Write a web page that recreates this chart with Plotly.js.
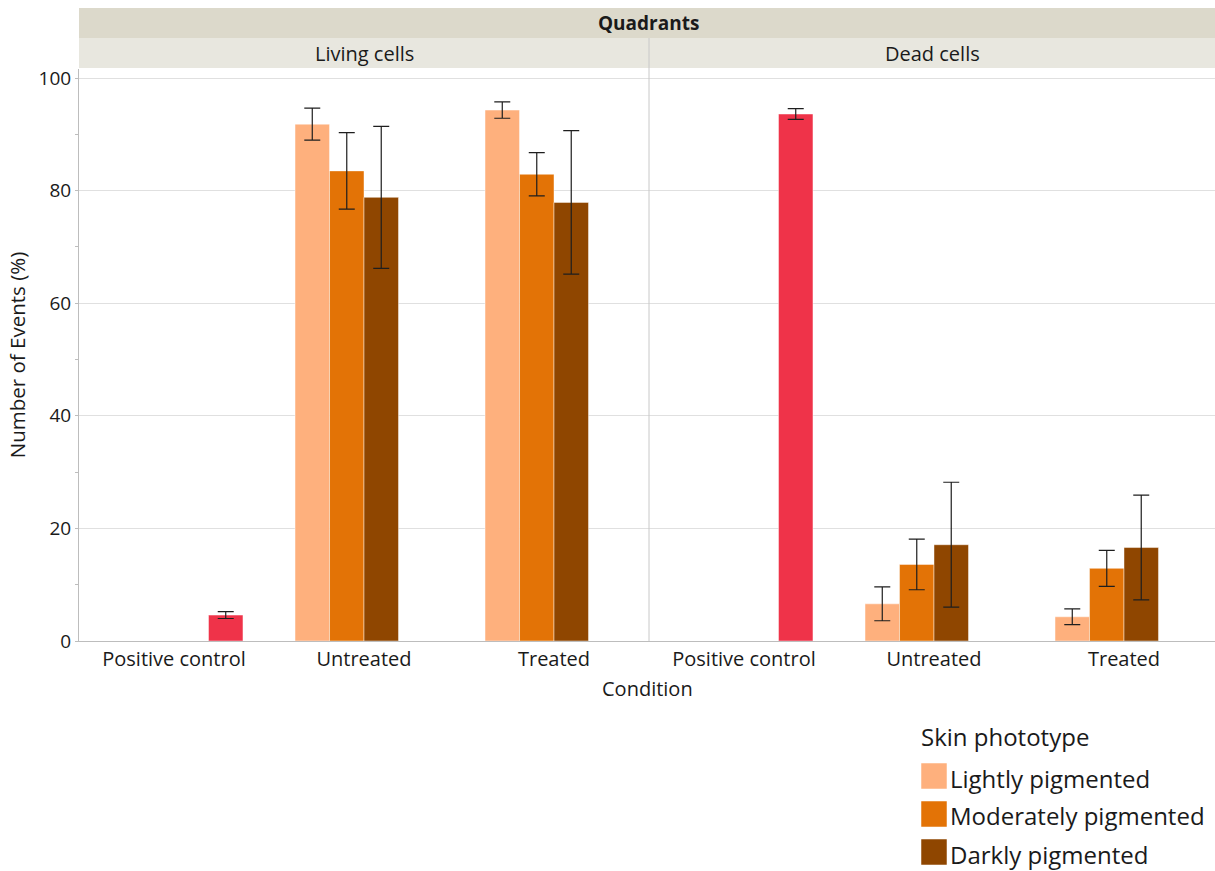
<!DOCTYPE html>
<html>
<head>
<meta charset="utf-8">
<script src="https://cdn.plot.ly/plotly-3.0.1.min.js"></script>
<style>
  html, body { margin: 0; padding: 0; background: #ffffff; overflow: hidden; }
  #chart { width: 1215px; height: 871px; }
</style>
</head>
<body>
<div id="chart"></div>
<script>
// Conditions on the x axis of each panel
const categories = ['Positive control', 'Untreated', 'Treated'];

// Panels (quadrants)
const panelNames = ['Living cells', 'Dead cells'];

// Skin phototype groups
const seriesNames = ['Lightly pigmented', 'Moderately pigmented', 'Darkly pigmented'];
const seriesColors = ['#FEB07D', '#E37306', '#8F4600'];
const controlColor = '#EF3349';

// Living cells: mean (%) and error
const livingLight      = [null, 91.8, 94.3];
const livingLightErr   = [null, 2.85, 1.45];
const livingModerate   = [null, 83.5, 82.9];
const livingModerateErr= [null, 6.8, 3.85];
const livingDark       = [null, 78.8, 77.9];
const livingDarkErr    = [null, 12.6, 12.75];
const livingControl    = [4.6, null, null];
const livingControlErr = [0.6, null, null];

// Dead cells: mean (%) and error
const deadLight        = [null, 6.6, 4.3];
const deadLightErr     = [null, 3.0, 1.4];
const deadModerate     = [null, 13.6, 12.9];
const deadModerateErr  = [null, 4.5, 3.2];
const deadDark         = [null, 17.1, 16.6];
const deadDarkErr      = [null, 11.1, 9.3];
const deadControl      = [93.6, null, null];
const deadControlErr   = [0.95, null, null];

const yTicks = [0, 20, 40, 60, 80, 100];

const FONT = '"Open Sans", "Noto Sans", sans-serif';
const TEXT = '#1a1a1a';

// Figure geometry (pixels)
const W = 1215, H = 871;
const M = { l: 79, r: 0, t: 69, b: 230 };
const plotW = W - M.l - M.r;
const plotH = H - M.t - M.b;
const catPx = 190;                       // width of one condition slot
const split = (3 * catPx) / plotW;       // domain boundary between panels

// helpers: pixel -> paper coordinates
const px = x => (x - M.l) / plotW;
const py = y => (H - M.b - y) / plotH;

function bar(name, x, y, err, color, xaxis) {
  return {
    type: 'bar', name: name, x: x, y: y, xaxis: xaxis, yaxis: 'y',
    marker: { color: color, line: { color: 'rgba(255,255,255,0.45)', width: 1 } },
    error_y: { type: 'data', array: err, visible: true, color: '#1e1e1e', thickness: 1.2, width: 8 },
    showlegend: false, hoverinfo: 'x+y'
  };
}

const panels = [
  { axis: 'x',  vals: [livingLight, livingModerate, livingDark], errs: [livingLightErr, livingModerateErr, livingDarkErr], ctl: livingControl, ctlErr: livingControlErr },
  { axis: 'x2', vals: [deadLight, deadModerate, deadDark],       errs: [deadLightErr, deadModerateErr, deadDarkErr],       ctl: deadControl,   ctlErr: deadControlErr }
];

const traces = [];
panels.forEach(p => {
  p.vals.forEach((v, i) => traces.push(bar(seriesNames[i], categories, v, p.errs[i], seriesColors[i], p.axis)));
  traces.push(bar('Positive control', categories, p.ctl, p.ctlErr, controlColor, p.axis));
});

const axisCommon = {
  type: 'category',
  categoryorder: 'array', categoryarray: categories,
  showgrid: false, zeroline: false,
  showline: true, linecolor: '#BDBDBD', linewidth: 1,
  ticks: '', tickfont: { family: FONT, size: 20, color: TEXT },
  fixedrange: true
};

const shapes = [];
const annotations = [];

// header bands
const band1Top = 8, band1Bot = 38, band2Bot = 68;
shapes.push({ type: 'rect', xref: 'paper', yref: 'paper', x0: 0, x1: 1, y0: py(band1Bot), y1: py(band1Top), fillcolor: '#DCD9CB', line: { width: 0 }, layer: 'below' });
shapes.push({ type: 'rect', xref: 'paper', yref: 'paper', x0: 0, x1: 1, y0: py(band2Bot), y1: py(band1Bot), fillcolor: '#E8E7DF', line: { width: 0 }, layer: 'below' });
// panel divider
shapes.push({ type: 'line', xref: 'paper', yref: 'paper', x0: split, x1: split, y0: 0, y1: py(band1Bot), line: { color: '#C8C8C8', width: 1 } });

annotations.push({ xref: 'paper', yref: 'paper', x: px(648), y: py((band1Top + band1Bot) / 2), text: '<b>Quadrants</b>', showarrow: false, xanchor: 'center', yanchor: 'middle', font: { family: FONT, size: 19, color: TEXT } });
annotations.push({ xref: 'paper', yref: 'paper', x: split / 2, y: py((band1Bot + band2Bot) / 2), text: panelNames[0], showarrow: false, xanchor: 'center', yanchor: 'middle', font: { family: FONT, size: 20, color: TEXT } });
annotations.push({ xref: 'paper', yref: 'paper', x: split + (1 - split) / 2, y: py((band1Bot + band2Bot) / 2), text: panelNames[1], showarrow: false, xanchor: 'center', yanchor: 'middle', font: { family: FONT, size: 20, color: TEXT } });

// x-axis title spanning both panels
annotations.push({ xref: 'paper', yref: 'paper', x: 0.5, y: py(688), text: 'Condition', showarrow: false, xanchor: 'center', yanchor: 'middle', font: { family: FONT, size: 20, color: TEXT } });

// legend: skin phototype
const legX = 921, legSq = 26, legTitleY = 736, legRow0 = 776, legStep = 38;
annotations.push({ xref: 'paper', yref: 'paper', x: px(legX - 2), y: py(legTitleY), text: 'Skin phototype', showarrow: false, xanchor: 'left', yanchor: 'middle', font: { family: FONT, size: 24, color: TEXT } });
seriesNames.forEach((n, i) => {
  const cy = legRow0 + i * legStep;
  shapes.push({ type: 'rect', xref: 'paper', yref: 'paper', x0: px(legX), x1: px(legX + legSq), y0: py(cy + legSq / 2), y1: py(cy - legSq / 2), fillcolor: seriesColors[i], line: { color: 'rgba(255,255,255,0.5)', width: 1 } });
  annotations.push({ xref: 'paper', yref: 'paper', x: px(legX + legSq + 1), y: py(cy + 2), text: n, showarrow: false, xanchor: 'left', yanchor: 'middle', font: { family: FONT, size: 24, color: TEXT } });
});

const layout = {
  width: W, height: H,
  margin: M,
  paper_bgcolor: '#ffffff', plot_bgcolor: '#ffffff',
  barmode: 'group', bargap: 0.274, bargroupgap: 0,
  showlegend: false,
  xaxis: Object.assign({}, axisCommon, { domain: [0, split], range: [-0.5, 2.5], anchor: 'y' }),
  xaxis2: Object.assign({}, axisCommon, { domain: [split, 1], range: [-0.5, -0.5 + (1 - split) * plotW / catPx], anchor: 'y' }),
  yaxis: {
    range: [0, (H - M.b - M.t) / 5.63],
    tickvals: yTicks, ticktext: yTicks.map(String),
    showgrid: true, gridcolor: '#E0E0E0', gridwidth: 1,
    zeroline: false,
    showline: true, linecolor: '#BDBDBD', linewidth: 1,
    ticks: 'outside', ticklen: 3, tickcolor: '#BDBDBD',
    minor: { tickvals: [10, 30, 50, 70, 90], ticks: 'outside', ticklen: 3, tickcolor: '#BDBDBD', showgrid: false },
    tickfont: { family: FONT, size: 19, color: TEXT },
    title: { text: 'Number of Events (%)', font: { family: FONT, size: 20.5, color: TEXT }, standoff: 7 },
    fixedrange: true
  },
  shapes: shapes,
  annotations: annotations,
  font: { family: FONT, color: TEXT }
};

Plotly.newPlot('chart', traces, layout, { displayModeBar: false, staticPlot: true });
</script>
</body>
</html>
